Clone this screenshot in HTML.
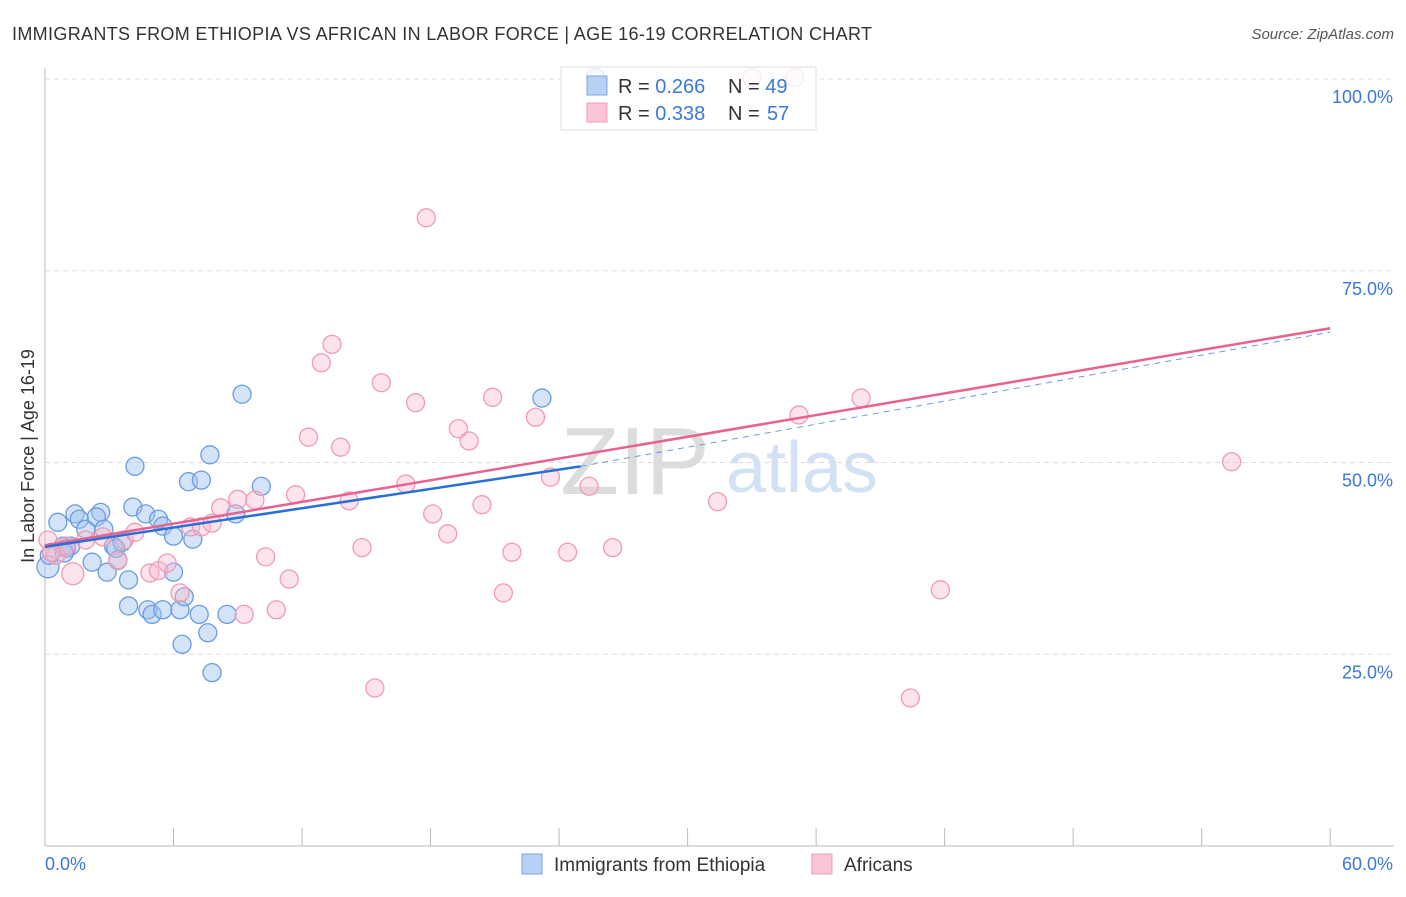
<!DOCTYPE html>
<html><head><meta charset="utf-8"><style>
body{margin:0;background:#fff;font-family:"Liberation Sans",sans-serif}
svg text{font-family:"Liberation Sans",sans-serif}
</style></head><body>
<svg id="chart" width="1406" height="892">
<text x="12" y="40" font-size="18" fill="#333" textLength="860">IMMIGRANTS FROM ETHIOPIA VS AFRICAN IN LABOR FORCE | AGE 16-19 CORRELATION CHART</text>
<text x="1394" y="39" font-size="15" fill="#555" font-style="italic" text-anchor="end">Source: ZipAtlas.com</text>
<text x="0" y="0" transform="translate(34,456) rotate(-90)" font-size="18" fill="#333" text-anchor="middle">In Labor Force | Age 16-19</text>
<text x="635" y="494" font-size="96" fill="#bbb" opacity="0.5" font-family="Liberation Serif" text-anchor="middle">ZIP</text>
<text x="802" y="492" font-size="72" fill="#a9c4ea" opacity="0.5" text-anchor="middle">atlas</text>
<g id="grid"></g><g id="axes"></g><g id="pts"></g><g id="lines"></g>
<g>
<rect x="561" y="67" width="255" height="63" fill="#fff" fill-opacity="0.8" stroke="#ddd"/>
<rect x="587" y="76" width="20" height="19" fill="#b8d0f3" stroke="#7fa6e0"/>
<rect x="587" y="103" width="20" height="19" fill="#fac5d5" stroke="#ef9bb5"/>
<text y="93" font-size="20" fill="#333"><tspan x="618">R = </tspan><tspan fill="#3b78d8">0.266</tspan><tspan x="728">N = </tspan><tspan fill="#3b78d8">49</tspan></text>
<text y="120" font-size="20" fill="#333"><tspan x="618">R = </tspan><tspan fill="#3b78d8">0.338</tspan><tspan x="728">N = </tspan><tspan x="767" fill="#3b78d8">57</tspan></text>
</g>
<rect x="522" y="854" width="20" height="20" fill="#b8d0f3" stroke="#7fa6e0"/>
<text x="554" y="871" font-size="19" fill="#333">Immigrants from Ethiopia</text>
<rect x="812" y="854" width="20" height="20" fill="#fac5d5" stroke="#ef9bb5"/>
<text x="844" y="871" font-size="19" fill="#333">Africans</text>
</svg>
<script>
const yTicks=[25,50,75,100];
const yTickLabels=["25.0%","50.0%","75.0%","100.0%"];
const xTickLabels=["0.0%","60.0%"];
const blueX=[0.14,0.2,0.6,0.84,1.2,1.4,1.6,1.9,2.2,2.6,2.4,2.75,2.9,3.2,3.4,3.6,3.9,3.9,4.1,4.2,4.7,4.8,5.0,5.3,5.5,5.5,6.0,6.0,6.3,6.4,6.5,6.7,6.9,7.2,7.3,7.6,7.7,7.8,8.5,8.9,9.2,10.1,23.2,25.7,1.0,3.3,0.9];
const blueY=[36.4,37.9,42.2,39.1,39.1,43.3,42.6,41.3,37.0,43.5,42.9,41.3,35.7,39.1,37.3,39.6,34.7,31.3,44.2,49.5,43.3,30.8,30.2,42.6,41.7,30.8,40.4,35.7,30.8,26.3,32.5,47.5,40.0,30.2,47.7,27.8,51.0,22.6,30.2,43.3,58.9,46.9,58.4,100.2,38.8,38.8,38.2];
const pinkX=[0.14,0.5,1.3,1.0,1.9,2.7,3.4,3.7,4.2,4.9,5.3,5.7,6.3,6.8,7.3,7.8,8.2,9.0,9.3,9.8,10.3,10.8,11.4,11.7,12.3,12.9,13.4,13.8,14.2,14.8,15.4,15.7,16.85,17.3,17.8,18.1,18.8,19.3,19.8,20.4,20.9,21.4,21.8,22.9,23.6,24.4,25.4,26.5,31.4,33.0,35.2,35.0,38.1,40.4,41.8,55.4,0.3];
const pinkY=[39.9,37.9,35.5,39.1,39.9,40.3,37.2,39.9,40.9,35.6,35.9,36.9,33.0,41.6,41.6,42.1,44.1,45.2,30.2,45.1,37.7,30.8,34.8,45.8,53.3,63.0,65.4,52.0,45.0,38.9,20.6,60.4,47.2,57.8,81.9,43.3,40.7,54.4,52.8,44.5,58.5,33.0,38.3,55.9,48.1,38.3,46.9,38.9,44.9,100.2,56.2,100.2,58.4,19.3,33.4,50.1,38.3];
const blueLine=[0,39.0,25,49.5];
const pinkLine=[0,39.2,60,67.5];
const blueExtEnd=[60,67.0];
const X=v=>45+v*21.42, Y=v=>846-v*7.67;
const NS="http://www.w3.org/2000/svg";
function mk(tag,attrs,parent){const e=document.createElementNS(NS,tag);for(const k in attrs)e.setAttribute(k,attrs[k]);document.getElementById(parent).appendChild(e);return e;}
yTicks.forEach((t,i)=>{
 const l=mk('line',{x1:45,x2:1394,y1:Y(t),y2:Y(t),stroke:'#ddd','stroke-dasharray':'5,4'},'grid');
 
 
 const tx=mk('text',{x:1393,y:Y(t)+24,'font-size':18,fill:'#3b78d8','text-anchor':'end'},'grid');tx.textContent=yTickLabels[i];
 
 
});
const ax=mk('line',{x1:45,x2:45,y1:68,y2:846,stroke:'#bbb'},'axes');


const bx=mk('line',{x1:45,x2:1394,y1:846,y2:846,stroke:'#bbb'},'axes');


for(let i=0;i<=10;i++){const t=mk('line',{x1:X(i*6),x2:X(i*6),y1:828,y2:846,stroke:'#bbb'},'axes');
 
 }
[[0,'start',45],[60,'end',1393]].forEach((d,i)=>{const t=mk('text',{x:d[2],y:870,'font-size':18,fill:'#3b78d8','text-anchor':d[1]},'axes');t.textContent=xTickLabels[i];
 
 });
blueX.forEach((v,i)=>{const c=mk('circle',{cx:X(v),cy:Y(blueY[i]),r:i==0?11:9,fill:'rgba(160,195,240,0.45)',stroke:'#6b9be0','stroke-width':1.3},'pts');
 
 });
pinkX.forEach((v,i)=>{const c=mk('circle',{cx:X(v),cy:Y(pinkY[i]),r:i==2?11:9,fill:'rgba(250,185,205,0.4)',stroke:'#ef9bb5','stroke-width':1.3},'pts');
 
 });
const dl=mk('line',{x1:X(blueLine[2]),y1:Y(blueLine[3]),x2:X(blueExtEnd[0]),y2:Y(blueExtEnd[1]),stroke:'#6b9be0','stroke-dasharray':'6,5','stroke-width':1},'lines');


const pl=mk('line',{x1:X(pinkLine[0]),y1:Y(pinkLine[1]),x2:X(pinkLine[2]),y2:Y(pinkLine[3]),stroke:'#e8628f','stroke-width':2.5},'lines');


const bl=mk('line',{x1:X(blueLine[0]),y1:Y(blueLine[1]),x2:X(blueLine[2]),y2:Y(blueLine[3]),stroke:'#2a6fd6','stroke-width':2.5},'lines');


</script>
</body></html>
